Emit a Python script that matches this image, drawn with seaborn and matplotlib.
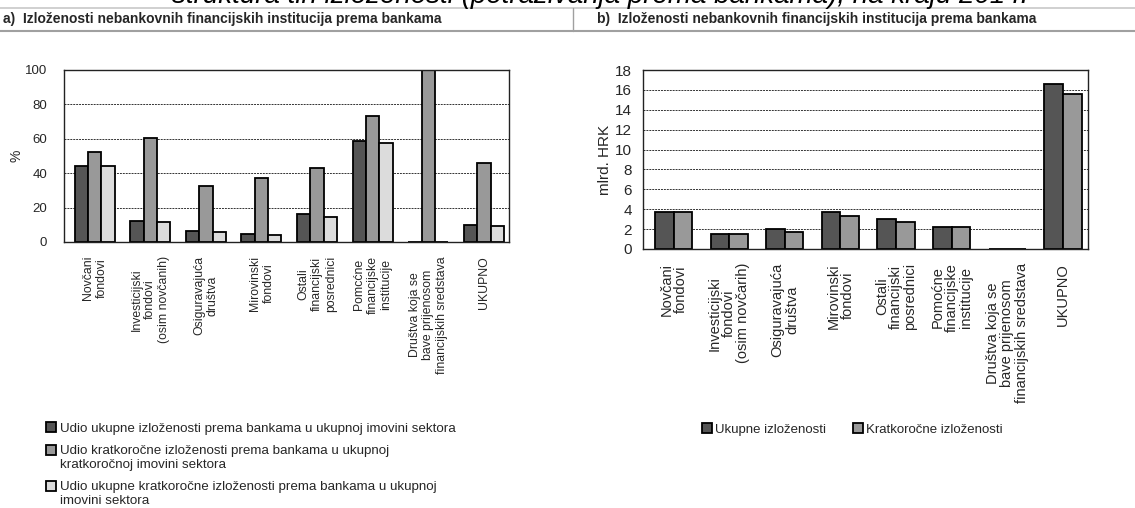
import matplotlib
matplotlib.use('Agg')
import matplotlib.pyplot as plt
from matplotlib.patches import Patch
from matplotlib.lines import Line2D
import numpy as np
import pandas as pd
import seaborn as sns

sns.set_style('white')
plt.rcParams['font.family'] = ['Liberation Sans', 'DejaVu Sans']

# data
categories_a = ['Novčani\nfondovi',
                'Investicijski\nfondovi\n(osim novčanih)',
                'Osiguravajuća\ndruštva',
                'Mirovinski\nfondovi',
                'Ostali\nfinancijski\nposrednici',
                'Pomcćne\nfinancijske\ninstitucije',
                'Društva koja se\nbave prijenosom\nfinancijskih sredstava',
                'UKUPNO']
categories_b = ['Novčani\nfondovi',
                'Investicijski\nfondovi\n(osim novčarih)',
                'Osiguravajuća\ndruštva',
                'Mirovinski\nfondovi',
                'Ostali\nfinancijski\nposrednici',
                'Pomoćne\nfinancijske\ninstitucije',
                'Društva koja se\nbave prijenosom\nfinancijskih sredstava',
                'UKUPNO']

series_a = ['Udio ukupne izloženosti prema bankama u ukupnoj imovini sektora',
            'Udio kratkoročne izloženosti prema bankama u ukupnoj\nkratkoročnoj imovini sektora',
            'Udio ukupne kratkoročne izloženosti prema bankama u ukupnoj\nimovini sektora']
share_total = [44.2, 12.5, 6.5, 4.4, 16.2, 59.0, 0.0, 10.0]
share_short = [52.3, 60.5, 32.3, 37.3, 43.3, 73.5, 99.8, 46.2]
share_short_total = [44.0, 11.9, 5.6, 4.2, 14.6, 57.7, 0.0, 9.2]

series_b = ['Ukupne izloženosti', 'Kratkoročne izloženosti']
exposure_total = [3.75, 1.55, 2.0, 3.75, 3.0, 2.25, 0.0, 16.6]
exposure_short = [3.75, 1.55, 1.75, 3.35, 2.75, 2.25, 0.0, 15.6]

colors_a = ['#555555', '#999999', '#dcdcdc']
colors_b = ['#555555', '#999999']

df_a = pd.DataFrame({
    'category': categories_a * 3,
    'series': [s for s in series_a for _ in categories_a],
    'value': share_total + share_short + share_short_total})
df_b = pd.DataFrame({
    'category': categories_b * 2,
    'series': [s for s in series_b for _ in categories_b],
    'value': exposure_total + exposure_short})

fig = plt.figure(figsize=(11.35, 5.08), dpi=100)

ax_a = fig.add_axes([64 / 1135, 1 - 242 / 508, 445 / 1135, 172 / 508])
ax_b = fig.add_axes([643 / 1135, 1 - 249 / 508, 445 / 1135, 179 / 508])


def style_axis(ax, ytick_size, ytick_pad, xtick_size, xtick_spacing):
    for s in ax.spines.values():
        s.set_color('#222222')
        s.set_linewidth(1.0)
    ax.yaxis.grid(True, color='#333333', linestyle=(0, (2, 1)), linewidth=0.7)
    ax.set_axisbelow(True)
    ax.tick_params(axis='y', length=0, pad=ytick_pad, labelsize=ytick_size)
    ax.tick_params(axis='x', length=0, pad=10)
    for lbl in ax.get_xticklabels():
        lbl.set_rotation(90)
        lbl.set_ha('center')
        lbl.set_va('top')
        lbl.set_multialignment('center')
        lbl.set_fontsize(xtick_size)
        lbl.set_linespacing(xtick_spacing)
    ax.set_xlabel('')


sns.barplot(data=df_a, x='category', y='value', hue='series',
            palette=colors_a, width=0.72, edgecolor='black', linewidth=1.3,
            saturation=1, ax=ax_a, legend=False)
ax_a.set_ylim(0, 100)
ax_a.set_yticks(np.arange(0, 101, 20))
ax_a.set_xlim(-0.55, 7.45)
style_axis(ax_a, 9.5, 12, 8.8, 1.2)
ax_a.set_ylabel('%', fontsize=10, labelpad=1)

sns.barplot(data=df_b, x='category', y='value', hue='series',
            palette=colors_b, width=0.67, edgecolor='black', linewidth=1.3,
            saturation=1, ax=ax_b, legend=False)
ax_b.set_ylim(0, 18)
ax_b.set_yticks(np.arange(0, 19, 2))
ax_b.set_xlim(-0.55, 7.45)
style_axis(ax_b, 11, 8, 10.5, 1.02)
ax_b.set_ylabel('mlrd. HRK', fontsize=11, labelpad=2)

# legends
handles_a = [Patch(facecolor=c, edgecolor='black', linewidth=1.3) for c in colors_a]
leg_a = fig.legend(handles_a, series_a, loc='upper left', bbox_to_anchor=(41 / 1135, 1 - 417 / 508),
                   frameon=False, fontsize=9.6, handlelength=0.75, handleheight=0.75,
                   handletextpad=0.25, labelspacing=0.75, borderaxespad=0)
for txt in leg_a.get_texts():
    txt.set_linespacing(1.22)
# put the square next to the first line of two-line entries
for handle, label in zip(leg_a.legend_handles, series_a):
    if '\n' in label:
        handle.set_y(handle.get_y() + 5.4)
handles_b = [Patch(facecolor=c, edgecolor='black', linewidth=1.3) for c in colors_b]
fig.legend(handles_b, series_b, loc='upper left', bbox_to_anchor=(697 / 1135, 1 - 418 / 508),
           frameon=False, fontsize=9.5, ncol=2, handlelength=0.75, handleheight=0.75,
           handletextpad=0.25, columnspacing=2.0, borderaxespad=0)

# panel headers
title_font = ['Liberation Sans Narrow', 'Liberation Sans', 'DejaVu Sans']
fig.text(3 / 1135, 1 - 19 / 508, 'a)  Izloženosti nebankovnih financijskih institucija prema bankama',
         fontsize=10, fontweight='bold', family=title_font, va='center')
fig.text(597 / 1135, 1 - 19 / 508, 'b)  Izloženosti nebankovnih financijskih institucija prema bankama',
         fontsize=10, fontweight='bold', family=title_font, va='center')
fig.add_artist(Line2D([0, 1], [1 - 8 / 508] * 2, color='#c8c8c8', linewidth=1.2))
fig.add_artist(Line2D([0, 1], [1 - 31 / 508] * 2, color='#a0a0a0', linewidth=1.5))
fig.add_artist(Line2D([573 / 1135] * 2, [1 - 8 / 508, 1 - 31 / 508], color='#a0a0a0', linewidth=1.0))

# cut-off main title at the very top
fig.text(600 / 1135, 1 - 3 / 508, 'struktura tih izloženosti (potraživanja prema bankama), na kraju 2014.',
         fontsize=20, style='italic', ha='center', va='baseline', color='black')

fig.savefig('out.png', dpi=100)
